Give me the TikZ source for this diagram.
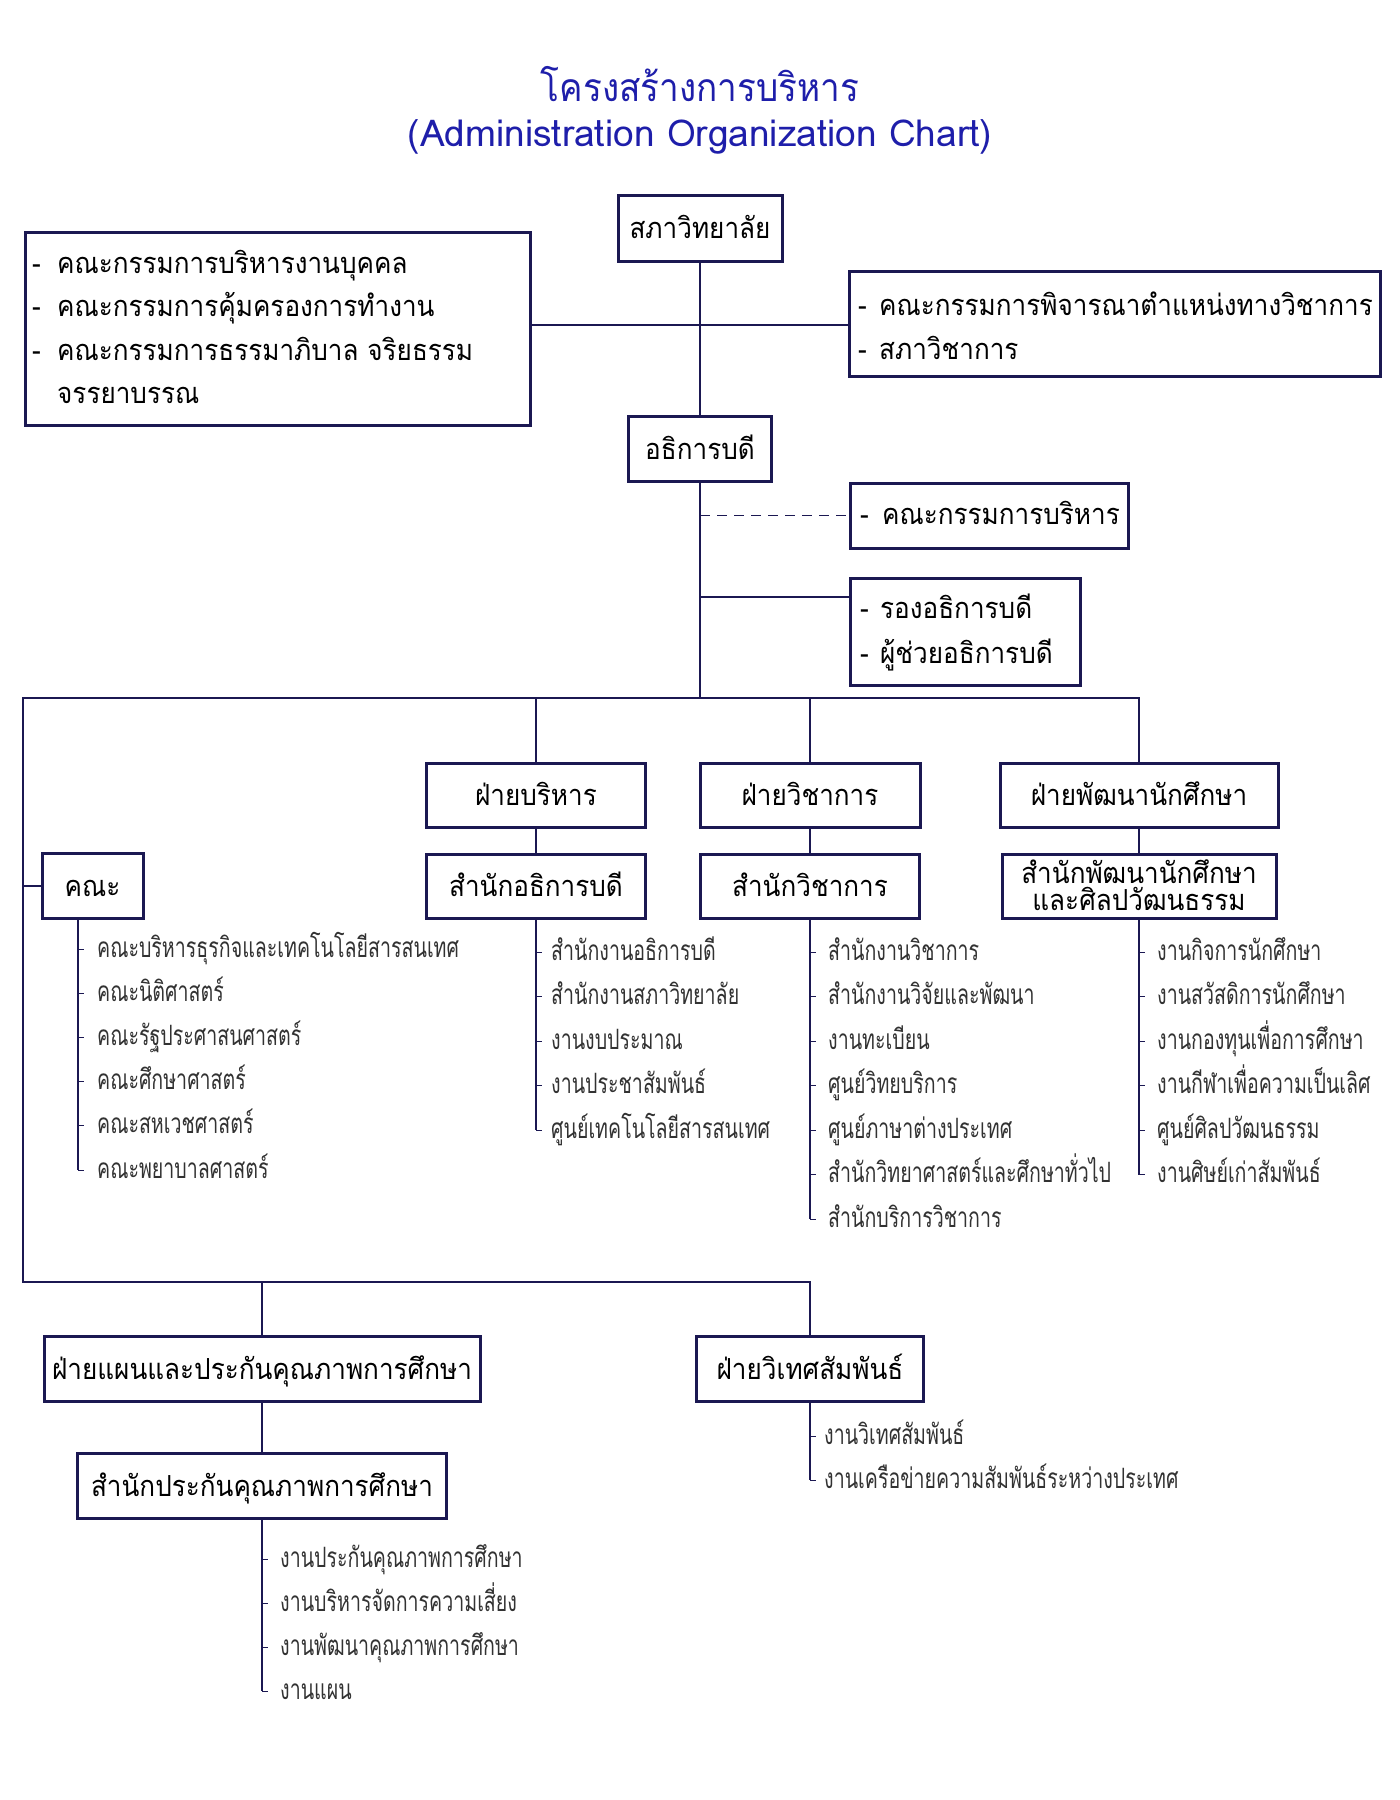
\documentclass[tikz,border=0pt]{standalone}
\usepackage{fontspec}
\newfontfamily\boxfont[Script=Thai,FakeStretch=0.9]{Loma}
\newfontfamily\listfont[Script=Thai,FakeStretch=0.70]{Loma}
\newfontfamily\ttlfont[Script=Thai,FakeStretch=0.9]{Loma}
\newfontfamily\ttllat[Script=Thai,FakeStretch=1.0]{Loma}
\definecolor{navy}{RGB}{27,24,82}
\definecolor{ttl}{RGB}{30,30,170}
\definecolor{itemc}{RGB}{50,50,50}
\tikzset{
  orgbox/.style={draw=navy, line width=3pt, rectangle, inner sep=0pt, text height=21pt, text depth=0pt,
    font=\boxfont\fontsize{29}{32}\selectfont, text=black},
  plainbox/.style={draw=navy, line width=3pt, rectangle, inner sep=0pt},
  conn/.style={draw=navy, line width=2pt},
  dashconn/.style={draw=navy, line width=1.5pt, dash pattern=on 10pt off 7pt},
  tickl/.style={draw=navy, line width=1pt},
  itemtext/.style={anchor=base west, inner sep=0pt, font=\listfont\fontsize{28}{30}\selectfont, text=itemc},
  linetext/.style={anchor=base west, inner sep=0pt, font=\boxfont\fontsize{29}{32}\selectfont, text=black},
  ctext/.style={anchor=base, inner sep=0pt, font=\boxfont\fontsize{29}{32}\selectfont, text=black},
}
% box from corners: name, x1, y1, x2, y2, text
\newcommand\OB[6]{\node[orgbox, minimum width={(#4)-(#2)}, minimum height={(#5)-(#3)}] (#1) at ({((#2)+(#4))/2},{((#3)+(#5))/2}) {#6};}
\newcommand\PB[5]{\node[plainbox, minimum width={(#4)-(#2)}, minimum height={(#5)-(#3)}] (#1) at ({((#2)+(#4))/2},{((#3)+(#5))/2}) {};}
% list: prefix, line x, text offset, first baseline, spacing, items
\newcommand\mklist[6]{%
  \foreach \itm [count=\i] in {#6} {%
    \pgfmathsetmacro\yy{#4+#5*(\i-1)}%
    \node[itemtext] (#1\i) at ({#2+#3},\yy) {\itm};%
    \coordinate (#1t\i) at (#2,{\yy-8});%
    \draw[tickl] (#1t\i) -- ++(6,0);%
  }%
}
\begin{document}
\begin{tikzpicture}[x=1pt,y=-1pt]
\fill[white] (0,0) rectangle (1400,1800);
\useasboundingbox (0,0) rectangle (1400,1800);

% title
\node[anchor=base, inner sep=0pt, font=\ttlfont\fontsize{39}{40}\selectfont, text=ttl] (t1) at (700,101) {โครงสร้างการบริหาร};
\node[anchor=base, inner sep=0pt, font=\ttllat\fontsize{37}{40}\selectfont, text=ttl] (t2) at (700,146) {(Administration Organization Chart)};

% top level
\OB{sapha}{618}{195}{782}{261}{สภาวิทยาลัย}
\PB{lbox}{25}{232}{530}{425}
\node[linetext] (l1) at (32,273) {\makebox[25pt][l]{-}คณะกรรมการบริหารงานบุคคล};
\node[linetext] (l2) at (32,316.5) {\makebox[25pt][l]{-}คณะกรรมการคุ้มครองการทำงาน};
\node[linetext] (l3) at (32,360) {\makebox[25pt][l]{-}คณะกรรมการธรรมาภิบาล จริยธรรม};
\node[linetext] (l4) at (57,403) {จรรยาบรรณ};
\PB{rbox}{849}{271}{1380}{376}
\node[linetext] (r1) at (858,315) {\makebox[21pt][l]{-}คณะกรรมการพิจารณาตำแหน่งทางวิชาการ};
\node[linetext] (r2) at (858,359) {\makebox[21pt][l]{-}สภาวิชาการ};
\coordinate (hy) at (0,325);
\draw[conn] (lbox.east |- hy) -- (rbox.west |- hy);

\OB{adh}{628.5}{416}{771.5}{481}{อธิการบดี}
\draw[conn] (sapha.south) -- (adh.north);

\PB{kk}{850}{483}{1128}{548}
\node[linetext] (kk1) at (860,524) {\makebox[22pt][l]{-}คณะกรรมการบริหาร};
\draw[dashconn] (adh.south |- kk.west) -- (kk.west);

\PB{rong}{850}{578.5}{1080}{685.5}
\node[linetext] (ro1) at (860,618.5) {\makebox[20pt][l]{-}รองอธิการบดี};
\node[linetext] (ro2) at (860,663.5) {\makebox[20pt][l]{-}ผู้ช่วยอธิการบดี};
\coordinate (ry) at (0,597);
\draw[conn] (adh.south |- ry) -- (rong.west |- ry);

% second level
\OB{fb}{426.5}{763}{645.5}{827}{ฝ่ายบริหาร}
\OB{fw}{700}{763}{920}{827}{ฝ่ายวิชาการ}
\OB{fp}{1000}{763}{1278}{827}{ฝ่ายพัฒนานักศึกษา}
\OB{sb}{426.5}{854}{645.5}{918}{สำนักอธิการบดี}
\OB{sw}{700.5}{854}{919.5}{918}{สำนักวิชาการ}
\PB{sp}{1002}{854}{1276}{918}
\node[ctext] (sp1) at (1139,883) {สำนักพัฒนานักศึกษา};
\node[ctext] (sp2) at (1139,910) {และศิลปวัฒนธรรม};
\OB{kana}{42}{853}{143}{918}{คณะ}

\OB{fplan}{44}{1336}{480}{1401}{ฝ่ายแผนและประกันคุณภาพการศึกษา}
\OB{fvt}{696.5}{1336}{923.5}{1401}{ฝ่ายวิเทศสัมพันธ์}
\OB{splan}{77.5}{1453}{446.5}{1518}{สำนักประกันคุณภาพการศึกษา}

% trunk and buses
\coordinate (busL) at (23,698);
\coordinate (lbusL) at (23,1282);
\draw[conn] (adh.south) -- (adh.south |- busL);
\draw[conn] (fp.north) -- (fp.north |- busL) -- (busL) -- (lbusL) -- (fvt.north |- lbusL) -- (fvt.north);
\draw[conn] (fb.north |- busL) -- (fb.north);
\draw[conn] (fw.north |- busL) -- (fw.north);
\draw[conn] (fplan.north |- lbusL) -- (fplan.north);
\draw[conn] (busL |- kana.west) -- (kana.west);
\draw[conn] (fb.south) -- (sb.north);
\draw[conn] (fw.south) -- (sw.north);
\draw[conn] (fp.south) -- (sp.north);
\draw[conn] (fplan.south) -- (splan.north);

% lists
\mklist{k}{78}{19}{957}{44.2}{คณะบริหารธุรกิจและเทคโนโลยีสารสนเทศ,คณะนิติศาสตร์,คณะรัฐประศาสนศาสตร์,คณะศึกษาศาสตร์,คณะสหเวชศาสตร์,คณะพยาบาลศาสตร์}
\draw[conn] (kana.south -| kt6) -- (kt6);
\mklist{a}{536}{15}{960}{44.5}{สำนักงานอธิการบดี,สำนักงานสภาวิทยาลัย,งานงบประมาณ,งานประชาสัมพันธ์,ศูนย์เทคโนโลยีสารสนเทศ}
\draw[conn] (sb.south) -- (at5);
\mklist{w}{810}{18}{960}{44.5}{สำนักงานวิชาการ,สำนักงานวิจัยและพัฒนา,งานทะเบียน,ศูนย์วิทยบริการ,ศูนย์ภาษาต่างประเทศ,สำนักวิทยาศาสตร์และศึกษาทั่วไป,สำนักบริการวิชาการ}
\draw[conn] (sw.south) -- (wt7);
\mklist{p}{1139}{18}{960}{44.5}{งานกิจการนักศึกษา,งานสวัสดิการนักศึกษา,งานกองทุนเพื่อการศึกษา,งานกีฬาเพื่อความเป็นเลิศ,ศูนย์ศิลปวัฒนธรรม,งานศิษย์เก่าสัมพันธ์}
\draw[conn] (sp.south) -- (pt6);
\mklist{v}{810}{14}{1444}{44}{งานวิเทศสัมพันธ์,งานเครือข่ายความสัมพันธ์ระหว่างประเทศ}
\draw[conn] (fvt.south) -- (vt2);
\mklist{q}{262}{18}{1567}{44}{งานประกันคุณภาพการศึกษา,งานบริหารจัดการความเสี่ยง,งานพัฒนาคุณภาพการศึกษา,งานแผน}
\draw[conn] (splan.south) -- (qt4);
\end{tikzpicture}
\end{document}
